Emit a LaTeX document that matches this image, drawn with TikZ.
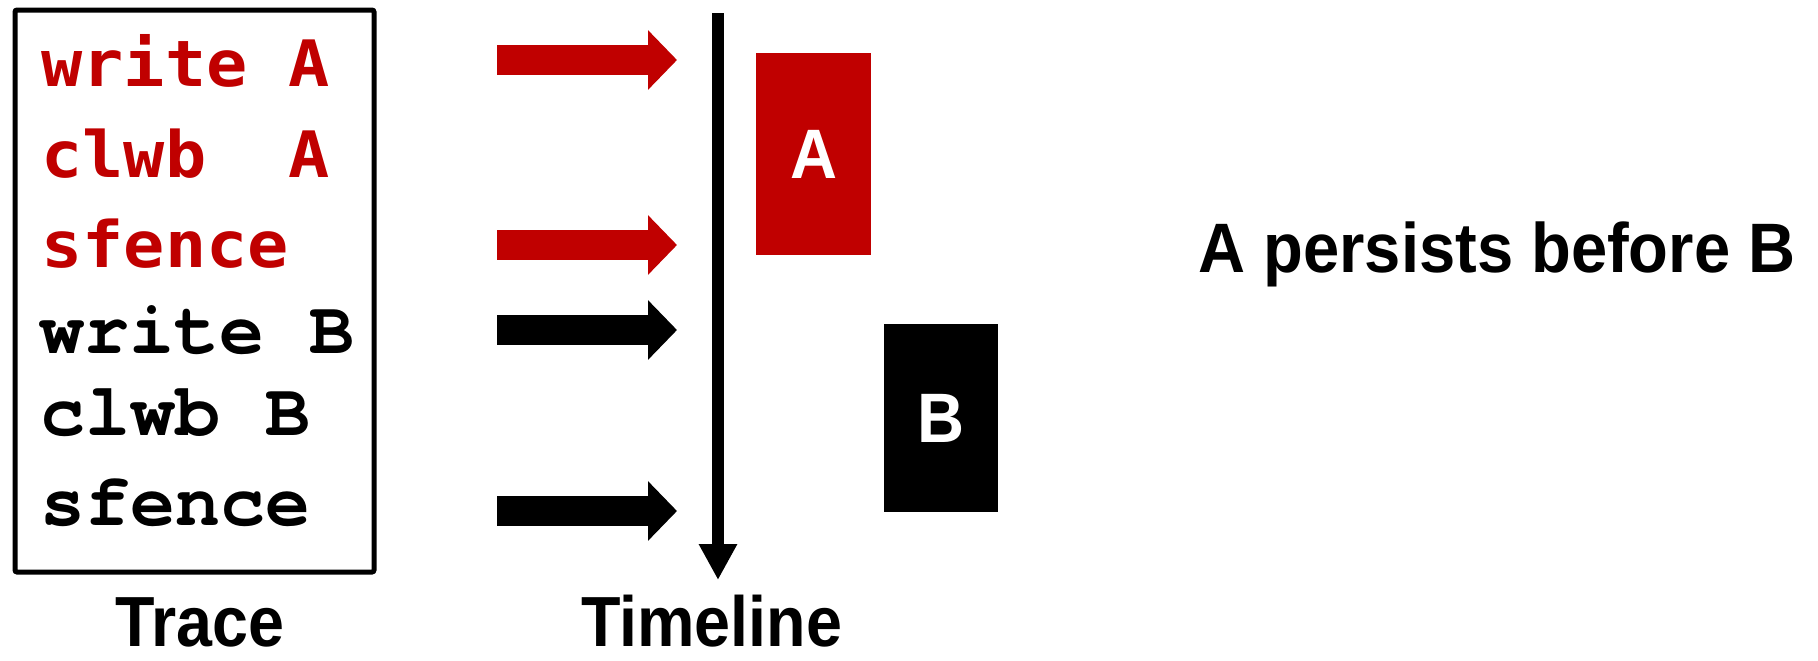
\documentclass[tikz,border=0pt]{standalone}
\usepackage{fontspec}
\setmainfont{Liberation Sans}
\newfontfamily\redmono[FakeStretch=1.07]{DejaVu Sans Mono Bold}
\newfontfamily\blackmono{TeX Gyre Cursor Bold}
\newfontfamily\captionfont[FakeStretch=0.91]{Liberation Sans Bold}
\newfontfamily\notefont[FakeStretch=0.93]{Liberation Sans Bold}
\usepackage{tikz}
\usetikzlibrary{arrows.meta, positioning}
\definecolor{pmred}{HTML}{C00000}

\begin{document}
\begin{tikzpicture}[
  x=0.5pt, y=-0.5pt,
  codeA/.style={anchor=base west, inner sep=0pt, text=pmred,
    font=\redmono\fontsize{32}{35}\selectfont},
  codeB/.style={anchor=base west, inner sep=0pt,
    font=\blackmono\fontsize{37.5}{40}\selectfont},
  fatarrow/.style={line width=15pt, -{Triangle[length=14.5pt, width=29pt]}},
  persistbox/.style={inner sep=0pt, text=white,
    font=\notefont\fontsize{35}{38}\selectfont},
  caption/.style={anchor=base, inner sep=0pt,
    font=\captionfont\fontsize{35.5}{38}\selectfont}
]
  \useasboundingbox (0,0) rectangle (1818,660);

  %------------------------------------------------------------
  %  TRACE (left box)
  %------------------------------------------------------------
  \node[draw, line width=2.5pt, rounded corners=1pt, inner sep=0pt,
        minimum width=179.5pt, minimum height=281pt] (trace) at (194.5,291) {};

  \node[codeA] (wA) at (41,86)  {write A};
  \node[codeA] (cA) at (41,177) {clwb\ \ A};
  \node[codeA] (fA) at (41,267) {sfence};

  \node[codeB] (wB) at (39,353) {write B};
  \node[codeB] (cB) at (40,435) {clwb B};
  \node[codeB] (fB) at (40,525) {sfence};

  \node[caption] (traceLabel) at (200,646) {Trace};

  %------------------------------------------------------------
  %  TIMELINE (vertical axis)
  %------------------------------------------------------------
  \coordinate (tTop) at (718,13);
  \coordinate (tBot) at (718,580);
  \draw[line width=6pt, -{Triangle[length=18pt, width=18pt]}] (tTop) -- (tBot);

  \node[caption] (timeLabel) at (711.5,646) {Timeline};

  %------------------------------------------------------------
  %  EVENTS:  trace line -> timeline
  %------------------------------------------------------------
  \foreach \y/\col in {60/pmred, 245/pmred, 330/black, 511/black} {
    \coordinate (from\y) at (497,\y);
    \coordinate (to\y)   at (677,\y);
    \draw[fatarrow, \col] (from\y) -- (to\y);
  }

  %------------------------------------------------------------
  %  PERSIST INTERVALS
  %------------------------------------------------------------
  \node[persistbox, fill=pmred, minimum width=57.5pt, minimum height=101pt]
    (boxA) at (813.5,154) {A};
  \node[persistbox, fill=black, minimum width=57pt, minimum height=94pt]
    (boxB) at (941,418) {B};

  \node[anchor=base, inner sep=0pt, font=\notefont\fontsize{35}{38}\selectfont]
    (order) at (1497,272) {A persists before B};

\end{tikzpicture}
\end{document}
